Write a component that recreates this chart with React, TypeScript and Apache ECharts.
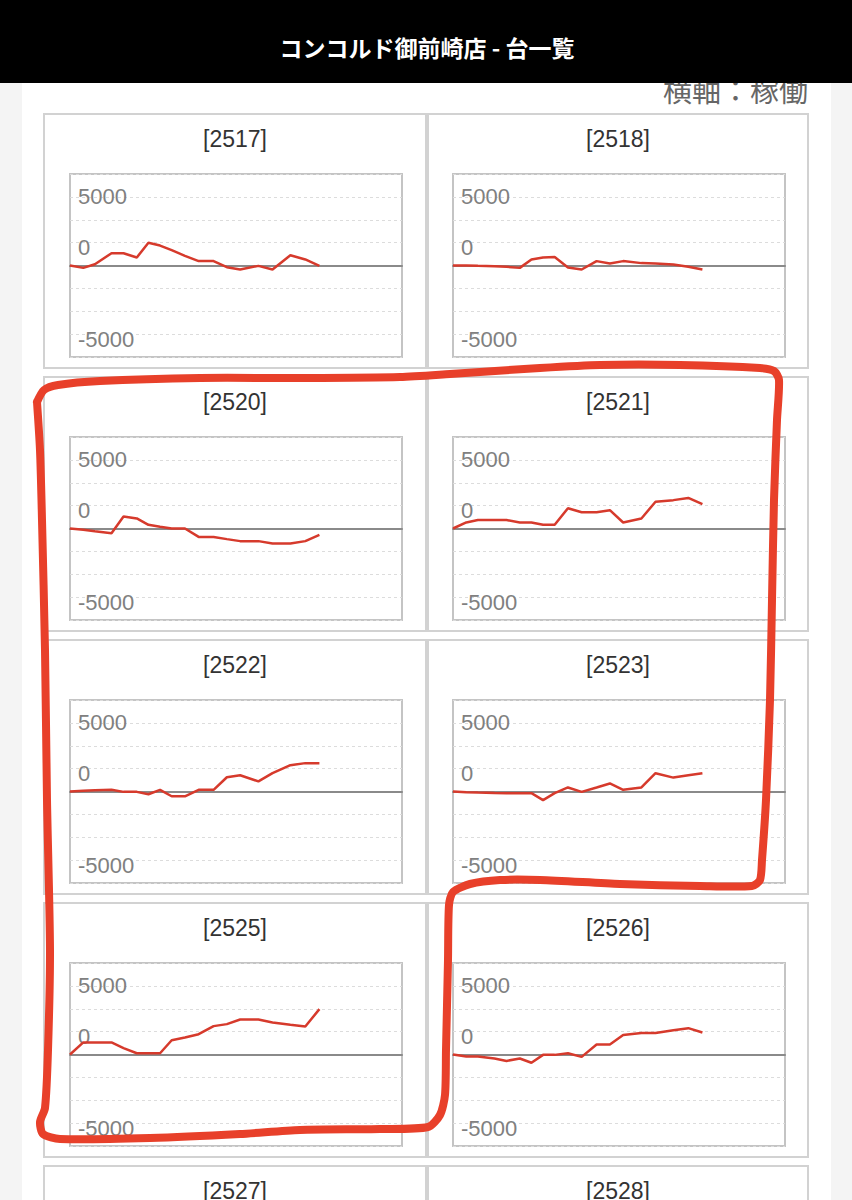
import React, { useEffect, useRef } from "react";
import * as echarts from "echarts";

const pageTitle = "コンコルド御前崎店 - 台一覧";
const axisNote = "横軸：稼働";
const machines = ["2517", "2518", "2520", "2521", "2522", "2523", "2525", "2526"];
const nextMachines = ["2527", "2528"];
const yTickLabels = [5000, 0, -5000];

const games = [0, 320, 600, 1000, 1290, 1610, 1890, 2170, 2450, 2770, 3100, 3460, 3780, 4100, 4540, 4880, 5310, 5670, 6010];

const m2517 = [0, -130, 70, 670, 670, 440, 1240, 1090, 840, 530, 240, 240, -90, -220, -20, -220, 560, 330, -20];
const m2518 = [0, 0, -20, -40, -70, -130, 330, 440, 460, -110, -220, 240, 110, 240, 130, 110, 50, -70, -220];
const m2520 = [0, -70, -150, -260, 660, 550, 200, 90, 0, 0, -460, -460, -580, -690, -690, -820, -820, -690, -350];
const m2521 = [0, 330, 460, 460, 460, 330, 330, 200, 200, 1110, 890, 890, 1000, 330, 550, 1460, 1550, 1670, 1330];
const m2522 = [0, 40, 70, 90, -20, -20, -150, 90, -260, -260, 90, 90, 780, 890, 550, 1000, 1440, 1550, 1550];
const m2523 = [0, -40, -60, -80, -90, -90, -90, -470, -90, 220, -20, 220, 440, 90, 220, 1000, 760, 890, 1000];
const m2525 = [0, 660, 660, 660, 350, 70, 70, 70, 780, 930, 1110, 1550, 1660, 1910, 1910, 1750, 1620, 1530, 2480];
const m2526 = [0, -110, -110, -220, -350, -220, -450, -20, -20, 70, -130, 550, 550, 1070, 1180, 1180, 1330, 1440, 1200];

const seriesValues = [m2517, m2518, m2520, m2521, m2522, m2523, m2525, m2526];

const ROW_TOPS = [114, 377, 640, 903, 1166];
const CARD_X = [44, 428];
const CARD_W = [382, 380];
const PLOT_X = [70, 453];

const outline = [
  [37, 402], [44, 390], [58, 385], [100, 381], [200, 378], [300, 378], [400, 377], [450, 374],
  [540, 368], [600, 365], [680, 365], [760, 368], [774, 371], [779, 380], [777, 420], [774, 500],
  [772, 600], [770, 700], [766, 800], [762, 860], [760, 880], [752, 886], [700, 886], [620, 884],
  [540, 880], [500, 880], [470, 884], [453, 892], [449, 905], [448, 960], [446, 1050], [445, 1095],
  [440, 1115], [428, 1127], [380, 1129], [300, 1130], [240, 1134], [150, 1138], [60, 1139],
  [43, 1134], [40, 1122], [45, 1108], [48, 1050], [50, 950], [47, 800], [45, 650], [42, 520],
  [40, 450], [37, 402]
];

export default function App() {
  const ref = useRef<HTMLDivElement>(null);
  useEffect(() => {
    if (!ref.current) return;
    const chart = echarts.init(ref.current, null, { renderer: "svg" });
    const grids: any[] = [];
    const xAxes: any[] = [];
    const yAxes: any[] = [];
    const series: any[] = [];
    const graphics: any[] = [];

    graphics.push({ type: "rect", shape: { x: 0, y: 0, width: 22, height: 1200 }, style: { fill: "#f4f4f4" } });
    graphics.push({ type: "rect", shape: { x: 831, y: 0, width: 21, height: 1200 }, style: { fill: "#f4f4f4" } });
    graphics.push({
      type: "text", x: 808, y: 89,
      style: { text: axisNote, fill: "#666", fontSize: 29, fontFamily: "Noto Sans CJK JP", align: "right", verticalAlign: "middle" }
    });
    graphics.push({ type: "rect", shape: { x: 0, y: 0, width: 852, height: 83 }, style: { fill: "#000" } });
    graphics.push({
      type: "text", x: 427, y: 47,
      style: { text: pageTitle, fill: "#fff", fontSize: 23, fontWeight: "bold", fontFamily: "Noto Sans CJK JP", align: "center", verticalAlign: "middle" }
    });

    const allTitles = machines.concat(nextMachines);
    allTitles.forEach((name, i) => {
      const r = Math.floor(i / 2);
      const c = i % 2;
      graphics.push({
        type: "rect",
        shape: { x: CARD_X[c], y: ROW_TOPS[r], width: CARD_W[c], height: 254 },
        style: { fill: "transparent", stroke: "#d2d2d2", lineWidth: 2 }
      });
      graphics.push({
        type: "text", x: CARD_X[c] + CARD_W[c] / 2, y: ROW_TOPS[r] + 25,
        style: { text: "[" + name + "]", fill: "#333", fontSize: 23, fontFamily: "Liberation Sans", align: "center", verticalAlign: "middle" }
      });
    });

    machines.forEach((name, i) => {
      const r = Math.floor(i / 2);
      const c = i % 2;
      grids.push({
        left: PLOT_X[c], top: ROW_TOPS[r] + 60, width: 332, height: 183,
        show: true, borderColor: "#c4c4c4", borderWidth: 2, backgroundColor: "transparent"
      });
      xAxes.push({
        type: "value", gridIndex: i, min: 0, max: 8000,
        axisLine: { show: true, onZero: true, lineStyle: { color: "#8a8a8a", width: 2 } },
        axisTick: { show: false }, axisLabel: { show: false }, splitLine: { show: false }
      });
      yAxes.push({
        type: "value", gridIndex: i, position: "left", min: -5000, max: 5000, interval: 1250,
        axisLine: { show: false }, axisTick: { show: false },
        splitLine: { show: true, lineStyle: { color: "#dcdcdc", width: 1, type: [3, 3] } },
        axisLabel: {
          inside: true, margin: 8, color: "#808080", fontSize: 22, fontFamily: "Liberation Sans",
          verticalAlign: "bottom", padding: [0, 0, 7, 0],
          showMinLabel: true, showMaxLabel: true,
          formatter: (v: number) => (yTickLabels.indexOf(v) >= 0 && v !== yTickLabels[0] ? String(v) : "")
        }
      });
      yAxes.push({
        type: "value", gridIndex: i, position: "left", offset: 0, min: -5000, max: 5000, interval: 1250,
        axisLine: { show: false }, axisTick: { show: false }, splitLine: { show: false },
        axisLabel: {
          inside: true, margin: 8, color: "#808080", fontSize: 22, fontFamily: "Liberation Sans",
          verticalAlign: "top", padding: [11, 0, 0, 0],
          showMinLabel: true, showMaxLabel: true,
          formatter: (v: number) => (v === yTickLabels[0] ? String(v) : "")
        }
      });
      series.push({
        type: "line", xAxisIndex: i, yAxisIndex: i * 2,
        data: games.map((g, j) => [g, seriesValues[i][j]]),
        showSymbol: false, silent: true,
        lineStyle: { color: "#d63a2c", width: 2.5 }
      });
    });

    graphics.push({
      type: "polyline", z: 100,
      shape: { points: outline, smooth: 0.25 },
      style: { stroke: "#e8402a", lineWidth: 8, fill: "none", lineJoin: "round", lineCap: "round" }
    });

    chart.setOption({
      animation: false,
      backgroundColor: "#ffffff",
      grid: grids,
      xAxis: xAxes,
      yAxis: yAxes,
      series,
      graphic: graphics
    });
    return () => chart.dispose();
  }, []);
  return <div ref={ref} style={{ position: "absolute", left: 0, top: 0, width: 852, height: 1200 }} />;
}
